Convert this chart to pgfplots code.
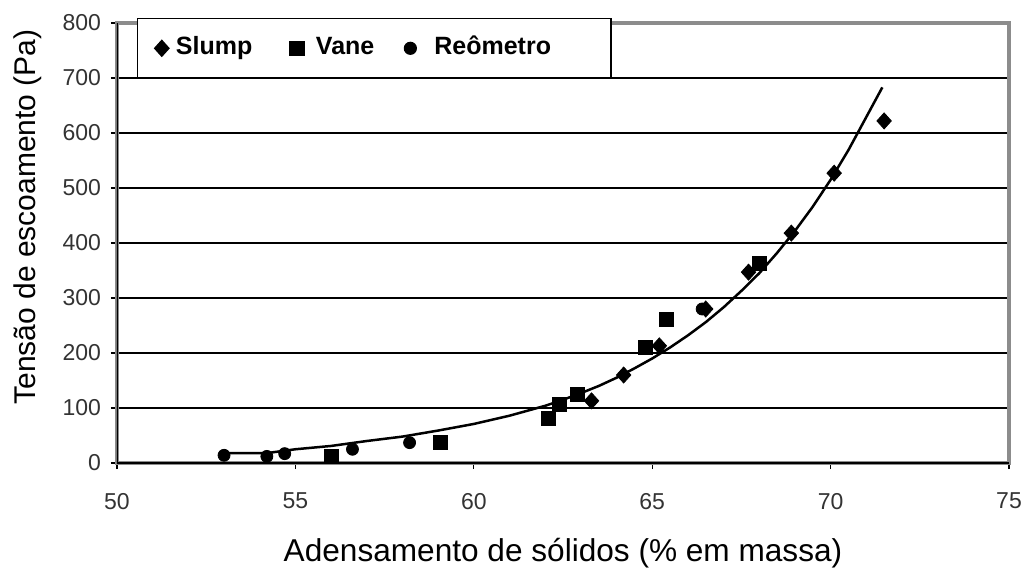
\documentclass[border=0pt]{standalone}
\usepackage{fontspec}
\setmainfont{Liberation Sans}
\usepackage{pgfplots}
\pgfplotsset{compat=1.18}
\begin{document}
\begin{tikzpicture}
\path[use as bounding box] (-58.5pt,-53pt) rectangle (453pt,231.5pt);
\begin{axis}[
  at={(0pt,0pt)}, anchor=south west,
  scale only axis, width=446pt, height=220pt,
  xmin=50, xmax=75, ymin=0, ymax=800,
  xtick={50,55,...,75}, ytick={0,100,...,800},
  tick pos=left, tick align=outside, major tick length=3pt,
  tick style={black, line width=0.6pt},
  axis line style={draw=black!45, line width=1.6pt},
  ymajorgrids, grid style={black, line width=0.6pt},
  /pgf/number format/assume math mode=true,
  tick label style={font=\fontsize{11.5}{13}\selectfont, text=black!80},
  xticklabel style={yshift=-8.5pt},
  yticklabel style={xshift=-1.5pt},
  xlabel={Adensamento de sólidos (\% em massa)},
  ylabel={Tensão de escoamento (Pa)},
  xlabel style={font=\fontsize{15.8}{18}\selectfont, at={(axis description cs:0.5,-0.2045)}, anchor=center},
  ylabel style={font=\fontsize{15}{17}\selectfont, at={(axis description cs:-0.0998,0.559)}, anchor=center},
  legend columns=3,
  legend cell align=left,
  legend image code/.code={\draw[#1] plot coordinates {(0pt,0pt)};},
  legend style={at={(axis description cs:0,1)}, anchor=north west,
    xshift=10pt, yshift=2.5pt, draw=black, line width=0.6pt, fill=white,
    font=\bfseries\fontsize{12.5}{15}\selectfont,
    nodes={text height=9.5pt, text depth=3pt},
    inner xsep=8.5pt, inner ysep=6.6pt,
    /tikz/column 1/.style={column sep=1.5pt},
    /tikz/column 2/.style={column sep=16.8pt},
    /tikz/column 3/.style={column sep=4pt},
    /tikz/column 4/.style={column sep=13pt},
    /tikz/column 5/.style={column sep=7pt}},
]
% Slump
\addplot[only marks, mark=diamond*, mark size=4pt, mark options={xscale=1.2}, black] coordinates {
  (63.3,113) (64.2,160) (65.2,213) (66.5,280) (67.7,347) (68.9,418) (70.1,527) (71.5,622)};
\addlegendentry{Slump}
% Vane
\addplot[only marks, mark=square*, mark size=3.5pt, black] coordinates {
  (56.0,12) (59.05,37) (62.1,82) (62.4,107) (62.9,125) (64.8,211) (65.4,262) (68.0,363)};
\addlegendentry{Vane}
% Reometro
\addplot[only marks, mark=*, mark size=3pt, black] coordinates {
  (53.0,14) (54.2,12) (54.7,17) (56.6,25) (58.2,37) (66.4,280)};
\addlegendentry{Re\^ometro\hspace*{19.5pt}}
% ajuste
\addplot[black, line width=1.25pt, no marks, forget plot] coordinates {
  (53.0,18) (54.2,18) (55.0,25) (56.0,31) (57.0,40) (58.0,48) (59.0,59)
  (60.0,71) (61.0,86) (62.0,104) (62.5,115) (63.0,127) (63.5,140) (64.0,155)
  (64.5,172) (65.0,190) (65.5,210) (66.0,232) (66.5,256) (67.0,283)
  (67.5,313) (68.0,345) (68.5,382) (69.0,422) (69.5,466) (70.0,515)
  (70.5,569) (71.0,629) (71.45,683)};
\draw[black, line width=0.7pt] (rel axis cs:0,1) -- (rel axis cs:0,0) -- (rel axis cs:1,0);
\end{axis}
\end{tikzpicture}
\end{document}
